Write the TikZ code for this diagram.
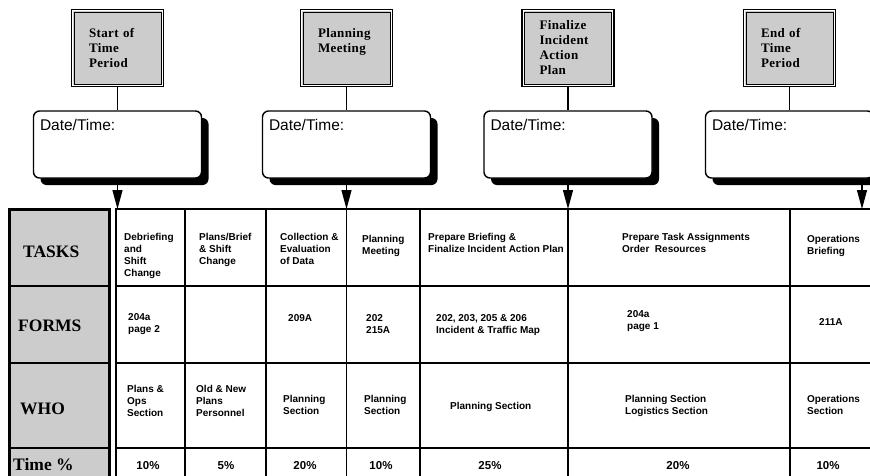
\documentclass[tikz,border=0pt]{standalone}
\usepackage{fontspec}
\setmainfont{Liberation Serif}
\setsansfont{Liberation Sans}
\newfontfamily\boxfont[LetterSpace=3]{Liberation Serif}
\usetikzlibrary{arrows.meta,shadows}

\tikzset{
  hdrbox/.style={draw, line width=2.6pt, fill=black!20, minimum width=91pt, minimum height=76pt,
    inner sep=0pt, text width=57pt, align=left, font=\boxfont\bfseries\fontsize{13}{15}\selectfont},
  datebox/.style={draw, line width=1.4pt, fill=white, rounded corners=6pt, minimum width=168pt,
    minimum height=67pt, drop shadow={opacity=1, fill=black, shadow xshift=7pt, shadow yshift=-7pt}},
  datetext/.style={anchor=north west, inner sep=0pt, font=\sffamily\fontsize{15.5}{18}\selectfont},
  cell/.style={anchor=north west, inner sep=0pt, align=left, font=\sffamily\bfseries\fontsize{10}{12}\selectfont},
  pct/.style={anchor=north, inner sep=0pt, font=\sffamily\bfseries\fontsize{11.5}{14}\selectfont},
  rowlabel/.style={anchor=base west, inner sep=0pt, font=\bfseries\fontsize{17.5}{20}\selectfont},
  arr/.style={line width=1.2pt, -{Triangle[length=19pt,width=10pt]}}
}

\begin{document}
\begin{tikzpicture}[x=1pt,y=-1pt]
    \clip (0,0) rectangle (870,475);

    % Riquadri in alto
    \node[hdrbox] (start) at (117.5,48) {Start of\\Time\\Period};
    \node[hdrbox] (plan) at (346.5,48) {Planning\\Meeting\\\mbox{}};
    \node[hdrbox] (final) at (568,48) {Finalize\\Incident\\Action\\Plan};
    \node[hdrbox] (end) at (789.5,48) {End of\\Time\\Period};
    \foreach \n in {start,plan,final,end} {
        \draw[white, line width=0.8pt] ([xshift=2pt,yshift=-2pt]\n.north west) rectangle ([xshift=-2pt,yshift=2pt]\n.south east);
        \draw[line width=0.8pt] ([xshift=3.3pt,yshift=-3.3pt]\n.north west) rectangle ([xshift=-3.3pt,yshift=3.3pt]\n.south east);
    }

    % Caselle Date/Time
    \node[datebox] (dt1) at (117.5,144.5) {};
    \node[datebox] (dt2) at (346.5,144.5) {};
    \node[datebox] (dt3) at (568,144.5) {};
    \node[datebox] (dt4) at (789.5,144.5) {};
    \foreach \i in {1,2,3,4}
        \node[datetext] (dl\i) at ([xshift=7pt,yshift=-9pt]dt\i.north west) {Date/Time:};

    % Collegamenti
    \draw[line width=1.4pt] (start.south) -- (start.south |- dt1.north);
    \draw[line width=1.4pt] (plan.south) -- (plan.south |- dt2.north);
    \draw[line width=1.4pt] (final.south) -- (final.south |- dt3.north);
    \draw[line width=1.4pt] (end.south) -- (end.south |- dt4.north);

    % Frecce verso la tabella
    \coordinate (a1) at (117.5,209);
    \coordinate (a2) at (346.5,209);
    \coordinate (a3) at (568,209);
    \coordinate (a4) at (862,209);
    \draw[arr] (dt1.south) -- (a1);
    \draw[arr] (dt2.south) -- (a2);
    \draw[arr] (dt3.south) -- (a3);
    \draw[arr] (dt4.south -| a4) -- (a4);

    % Colonna grigia
    \draw[line width=3pt, fill=black!20] (9.5,209.5) rectangle (109.5,485);
    \foreach \y in {286,363,448}
        \draw[line width=2.5pt] (9.5,\y) -- (109.5,\y);
    \node[rowlabel] (tasks) at (23,257) {TASKS};
    \node[rowlabel] (forms) at (18,331) {FORMS};
    \node[rowlabel] (who) at (20,414) {WHO};
    \node[rowlabel] (time) at (13,470) {Time \%};

    % Griglia
    \draw[line width=2pt] (116,485) -- (116,209) -- (875,209);
    \foreach \y in {286,363,448}
        \draw[line width=1.2pt] (116,\y) -- (875,\y);
    \foreach \x in {185,266,420,790}
        \draw[line width=1.1pt] (\x,209) -- (\x,485);
    \foreach \x in {346.5,568}
        \draw[line width=1.8pt] (\x,209) -- (\x,485);

    % Riga TASKS
    \node[cell] (t1) at (124,233) {Debriefing\\and\\Shift\\Change};
    \node[cell] (t2) at (199,233) {Plans/Brief\\\& Shift\\Change};
    \node[cell] (t3) at (280,233) {Collection \&\\Evaluation\\of Data};
    \node[cell] (t4) at (362,235) {Planning\\Meeting};
    \node[cell] (t5) at (428,233) {Prepare Briefing \&\\Finalize Incident Action Plan};
    \node[cell] (t6) at (622,233) {Prepare Task Assignments\\Order\ \ Resources};
    \node[cell] (t7) at (807,235) {Operations\\Briefing};

    % Riga FORMS
    \node[cell] (f1) at (128,313) {204a\\page 2};
    \node[cell] (f3) at (288,314) {209A};
    \node[cell] (f4) at (366,314) {202\\215A};
    \node[cell] (f5) at (436,314) {202, 203, 205 \& 206\\Incident \& Traffic Map};
    \node[cell] (f6) at (627,310) {204a\\page 1};
    \node[cell] (f7) at (819,318) {211A};

    % Riga WHO
    \node[cell] (w1) at (127,385) {Plans \&\\Ops\\Section};
    \node[cell] (w2) at (196,385) {Old \& New\\Plans\\Personnel};
    \node[cell] (w3) at (283,395) {Planning\\Section};
    \node[cell] (w4) at (364,395) {Planning\\Section};
    \node[cell] (w5) at (450,402) {Planning Section};
    \node[cell] (w6) at (625,395) {Planning Section\\Logistics Section};
    \node[cell] (w7) at (807,395) {Operations\\Section};

    % Riga Time %
    \node[pct] (p1) at (148,461) {10\%};
    \node[pct] (p2) at (226,461) {5\%};
    \node[pct] (p3) at (305,461) {20\%};
    \node[pct] (p4) at (381,461) {10\%};
    \node[pct] (p5) at (490,461) {25\%};
    \node[pct] (p6) at (678,461) {20\%};
    \node[pct] (p7) at (828,461) {10\%};
\end{tikzpicture}
\end{document}
